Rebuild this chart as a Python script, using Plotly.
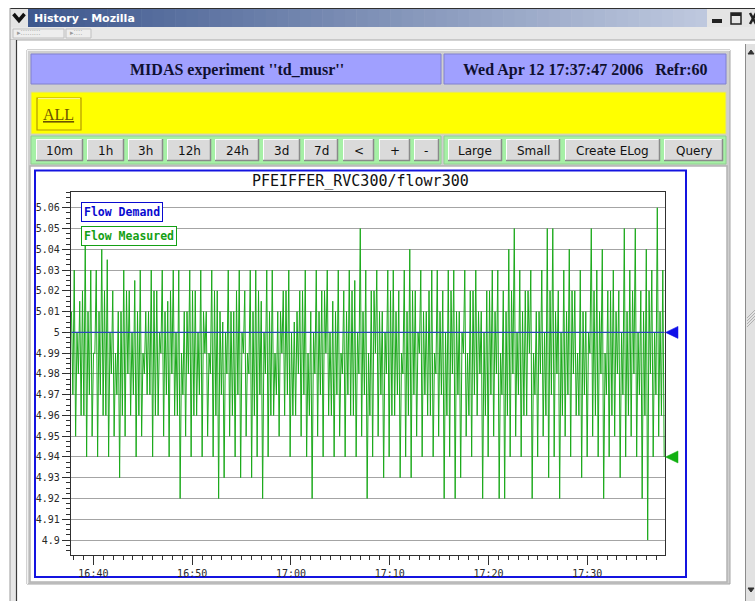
import plotly.graph_objects as go
import pandas as pd

# ------------------------------------------------------------------ data
chart_title = "PFEIFFER_RVC300/flowr300"
series_names = ["Flow Demand", "Flow Measured"]
header_left = 'MIDAS experiment "td_musr"'
header_right = "Wed Apr 12 17:37:47 2006\u00a0\u00a0\u00a0Refr:60"
window_title = "History - Mozilla"
group_buttons = ["ALL"]
time_buttons = ["10m", "1h", "3h", "12h", "24h", "3d", "7d", "<", "+", "-"]
action_buttons = ["Large", "Small", "Create ELog", "Query"]

start_time = "2006-04-12 16:37:47"
end_time = "2006-04-12 17:37:47"
flow_demand = [5.0, 5.0]

# one oscillation cycle = inner high, inner low, peak, trough
measured_inner_highs = [
    5.01, 5.0, 5.02, 5.01, 4.99, 5.01, 5.02, 5.0, 4.99, 5.01,
    5.02, 5.0, 5.01, 4.99, 5.01, 5.02, 5.0, 5.01, 5.02, 5.0,
    4.99, 5.01, 5.02, 5.0, 5.01, 4.99, 5.02, 5.01, 5.0, 5.01,
    5.02, 5.0, 4.99, 5.01, 5.02, 5.0, 5.01, 4.99, 5.01, 5.02,
    5.0, 5.01, 5.02, 4.99, 5.0, 5.01, 5.02, 5.0, 5.01, 4.99,
    5.01, 5.02, 5.0, 5.01, 4.99, 5.02, 5.01, 5.0, 5.02, 5.01,
    4.99, 5.01, 5.02, 5.0, 5.01, 5.02, 4.99, 5.01, 5.0, 5.02,
    5.01, 5.0, 4.99, 5.02, 5.01, 5.0, 5.02, 5.01, 4.99, 5.01,
    5.02, 5.0, 5.01, 5.02, 4.99, 5.01, 5.0, 5.02, 5.01, 5.0,
    5.01, 5.02, 4.99, 5.01, 5.0, 5.02, 5.01, 4.99, 5.02, 5.01,
    5.0, 5.01, 5.02, 5.0, 5.01, 5.02, 5.0, 5.01,
]
measured_inner_lows = [
    4.97, 4.98, 4.96, 4.97, 4.99, 4.97, 4.96, 4.98, 4.97, 4.96,
    4.98, 4.97, 4.96, 4.98, 4.97, 4.96, 4.99, 4.97, 4.98, 4.96,
    4.97, 4.98, 4.96, 4.97, 4.99, 4.98, 4.96, 4.97, 4.98, 4.96,
    4.97, 4.99, 4.98, 4.96, 4.97, 4.98, 4.96, 4.97, 4.99, 4.97,
    4.96, 4.98, 4.97, 4.96, 4.98, 4.97, 4.99, 4.96, 4.97, 4.98,
    4.97, 4.96, 4.98, 4.97, 4.96, 4.99, 4.97, 4.98, 4.96, 4.97,
    4.98, 4.96, 4.97, 4.99, 4.97, 4.96, 4.98, 4.97, 4.96, 4.98,
    4.97, 4.99, 4.96, 4.97, 4.98, 4.96, 4.97, 4.98, 4.97, 4.96,
    4.98, 4.97, 4.96, 4.99, 4.97, 4.98, 4.96, 4.97, 4.98, 4.96,
    4.97, 4.98, 4.96, 4.97, 4.99, 4.96, 4.98, 4.97, 4.96, 4.98,
    4.97, 4.96, 4.98, 4.97, 4.96, 4.98, 4.97, 4.96,
]
measured_peaks = [
    5.03, 5.015, 5.045, 5.03, 5.03, 5.04, 5.035, 5.02, 5.01, 5.03,
    5.02, 5.025, 5.03, 5.01, 5.03, 5.02, 5.03, 5.015, 5.03, 5.03,
    5.01, 5.03, 5.02, 5.03, 5.01, 5.03, 5.02, 5.005, 5.03, 5.01,
    5.03, 5.02, 5.03, 5.03, 5.015, 5.03, 5.03, 5.01, 5.02, 5.03,
    5.005, 5.02, 5.03, 5.01, 5.03, 5.02, 5.03, 5.015, 5.03, 5.02,
    5.03, 5.025, 5.05, 5.03, 5.02, 5.03, 5.01, 5.03, 5.03, 5.02,
    5.03, 5.04, 5.02, 5.03, 5.01, 5.03, 5.03, 5.02, 5.03, 5.03,
    5.01, 5.03, 5.02, 5.03, 5.01, 5.02, 5.03, 5.03, 5.02, 5.04,
    5.05, 5.03, 5.02, 5.03, 5.01, 5.03, 5.05, 5.05, 5.02, 5.03,
    5.04, 5.02, 5.03, 5.01, 5.05, 5.03, 5.04, 5.02, 5.03, 5.02,
    5.05, 5.03, 5.05, 5.02, 5.04, 5.03, 5.06, 5.03,
]
measured_troughs = [
    4.95, 4.96, 4.94, 4.95, 4.94, 4.96, 4.94, 4.95, 4.93, 4.95,
    4.96, 4.94, 4.95, 4.97, 4.94, 4.96, 4.95, 4.94, 4.96, 4.92,
    4.95, 4.94, 4.96, 4.94, 4.95, 4.94, 4.92, 4.93, 4.95, 4.94,
    4.93, 4.95, 4.93, 4.94, 4.92, 4.94, 4.96, 4.95, 4.96, 4.94,
    4.96, 4.95, 4.94, 4.92, 4.95, 4.94, 4.96, 4.94, 4.95, 4.94,
    4.96, 4.94, 4.95, 4.92, 4.94, 4.95, 4.93, 4.94, 4.96, 4.93,
    4.94, 4.93, 4.95, 4.94, 4.96, 4.94, 4.95, 4.92, 4.94, 4.92,
    4.93, 4.95, 4.94, 4.96, 4.92, 4.94, 4.95, 4.92, 4.92, 4.94,
    4.95, 4.94, 4.96, 4.92, 4.94, 4.95, 4.93, 4.94, 4.92, 4.95,
    4.94, 4.96, 4.93, 4.94, 4.95, 4.94, 4.92, 4.94, 4.95, 4.93,
    4.94, 4.95, 4.94, 4.92, 4.90, 4.94, 4.95, 4.94,
]

flow_measured = []
for a, b, hi, lo in zip(measured_inner_highs, measured_inner_lows,
                        measured_peaks, measured_troughs):
    flow_measured += [a, b, hi, lo]
measured_times = pd.date_range(start_time, end_time, periods=len(flow_measured))
demand_times = [start_time, end_time]

# ------------------------------------------------------------------ layout helpers
W, H = 755, 601
Y_RANGE = [4.8928, 5.0676]
PLOT_TOP, PLOT_BOTTOM = 192, 555
shapes, annotations = [], []


def X(p):
    return p / W


def Y(p):
    return 1 - p / H


def rect(x0, y0, x1, y1, fill, line=None, lw=0, layer="below"):
    shapes.append(dict(type="rect", xref="paper", yref="paper",
                       x0=X(x0), x1=X(x1), y0=Y(y1), y1=Y(y0),
                       fillcolor=fill, layer=layer,
                       line=dict(color=line or "rgba(0,0,0,0)", width=lw)))


def seg(x0, y0, x1, y1, color, w=1, layer="below"):
    shapes.append(dict(type="line", xref="paper", yref="paper",
                       x0=X(x0), x1=X(x1), y0=Y(y0), y1=Y(y1), layer=layer,
                       line=dict(color=color, width=w)))


def path(d_pts, color, fill=None, w=1, layer="below"):
    d = "M " + " L ".join(f"{X(a)},{Y(b)}" for a, b in d_pts)
    if fill:
        d += " Z"
    shapes.append(dict(type="path", xref="paper", yref="paper", path=d, layer=layer,
                       fillcolor=fill or "rgba(0,0,0,0)",
                       line=dict(color=color, width=w)))


def value_marker(value, color):
    """left-pointing triangle just right of the plot, at a data value on the y axis"""
    half = 6 * (Y_RANGE[1] - Y_RANGE[0]) / (PLOT_BOTTOM - PLOT_TOP)
    d = (f"M {X(665.5)},{value} L {X(678)},{value + half} "
         f"L {X(678)},{value - half} Z")
    shapes.append(dict(type="path", xref="paper", yref="y", path=d, layer="above",
                       fillcolor=color, line=dict(color=color, width=0.5)))


def text(x, y, s, size, color, family, xanchor="center", yanchor="middle", **kw):
    annotations.append(dict(xref="paper", yref="paper", x=X(x), y=Y(y), text=s,
                            showarrow=False, xanchor=xanchor, yanchor=yanchor,
                            font=dict(size=size, color=color, family=family), **kw))


def button(x0, x1, y0, y1, label):
    rect(x0, y0, x1, y1, "#dadada")
    seg(x0, y0 + 0.5, x1, y0 + 0.5, "#ffffff")
    seg(x0 + 0.5, y0, x0 + 0.5, y1, "#ffffff")
    seg(x0, y1 - 0.5, x1, y1 - 0.5, "#8a8a8a", 1.5)
    seg(x1 - 0.5, y0, x1 - 0.5, y1, "#8a8a8a", 1.5)
    text((x0 + x1) / 2, (y0 + y1) / 2 + 0.5, label, 12, "#111111", "DejaVu Sans")


# ------------------------------------------------------------------ window chrome
n_strips = 60
tb_x0, tb_x1 = 28, 707
c0, c1 = (62, 88, 142), (190, 200, 222)
for i in range(n_strips):
    t = i / (n_strips - 1)
    col = tuple(round(c0[k] + (c1[k] - c0[k]) * t) for k in range(3))
    xa = tb_x0 + (tb_x1 - tb_x0) * i / n_strips
    xb = tb_x0 + (tb_x1 - tb_x0) * (i + 1) / n_strips + 0.6
    rect(xa, 9, xb, 27, f"rgb{col}")
rect(10, 9, 28, 27, "#e4e4e4")
path([(13.5, 14), (19, 20.5), (24.5, 14)], "#111111", w=3.5)
seg(10, 8.5, 755, 8.5, "#303030", 1)
rect(707, 9, 755, 27, "#e4e4e4")
rect(712, 19, 722, 23, "#222222")
rect(731, 13, 741, 24, "rgba(0,0,0,0)", "#222222", 1.5)
rect(731, 13, 741, 16, "#222222")
seg(750, 13, 756, 24, "#222222", 2.5)
seg(750, 24, 756, 13, "#222222", 2.5)
text(32, 18.5, "<b>" + window_title + "</b>", 11, "#ffffff", "DejaVu Sans", xanchor="left")

# toolbar strip
rect(10, 27, 755, 40, "#e8e8e8")
seg(10, 40, 755, 40, "#a8a8a8")
rect(13, 29, 64, 38, "#eeeeee", "#c0c0c0", 1)
rect(66, 29, 91, 38, "#eeeeee", "#c0c0c0", 1)
text(15, 33.5, "\u25b8" + "\u205a" * 9, 7, "#9a9a9a", "DejaVu Sans", xanchor="left")
text(68, 33.5, "\u25b8" + "\u205a" * 4, 7, "#9a9a9a", "DejaVu Sans", xanchor="left")

# window frame + content edge
rect(10, 40, 16, 601, "#e6e6e6")
seg(16.5, 40, 16.5, 601, "#3a3a3a", 1.2)
seg(10, 8, 10, 601, "#9a9a9a", 1)

# scrollbar
rect(745, 44, 755, 601, "#e2e2e2")
seg(745.5, 44, 745.5, 601, "#8c8c8c", 1)
path([(748, 54), (751, 50), (754, 54)], "#333333", fill="#333333")
path([(748, 588), (751, 592), (754, 588)], "#333333", fill="#333333")
for k in range(4):
    seg(747, 318 + 3 * k, 755, 310 + 3 * k, "#b0b0b0", 1)

# ------------------------------------------------------------------ page table
rect(27, 50, 730, 584, "#cfcfcf", "#a6a6a6", 1)
seg(27, 50.5, 730, 50.5, "#f2f2f2", 1)
seg(27.5, 50, 27.5, 584, "#f2f2f2", 1)

# header row
rect(31, 54, 441, 84, "#a0a0ff", "#8080d0", 1)
rect(444, 54, 726, 84, "#a0a0ff", "#8080d0", 1)
text(237, 70, "<b>" + header_left.replace('"', "''") + "</b>", 16, "#101030", "Liberation Serif")
text(585, 70, "<b>" + header_right + "</b>", 16, "#101030", "Liberation Serif")

# group row (yellow)
rect(31, 92, 726, 134, "#ffff00", "#d8d8a0", 1)
rect(37, 98, 81, 130, "#ffff00", "#b49a00", 1.2)
seg(38, 98.6, 80, 98.6, "#fff8a0", 1)
text(59, 114, "<u>" + group_buttons[0] + "</u>", 16, "#6a5400", "Liberation Serif")

# button row (green)
rect(31, 136, 441, 164, "#a6f0a6", "#90d090", 1)
rect(444, 136, 726, 164, "#a6f0a6", "#90d090", 1)
time_button_x = [(36, 83), (87, 124), (128, 163), (167, 211), (215, 259),
                 (263, 300), (304, 338), (343, 374), (379, 410), (414, 439)]
action_button_x = [(448, 502), (506, 560), (565, 660), (664, 723)]
for (a, b), lab in zip(time_button_x, time_buttons):
    button(a, b, 139, 161, lab)
for (a, b), lab in zip(action_button_x, action_buttons):
    button(a, b, 139, 161, lab)

# chart cell
rect(30, 166, 727, 582, "#ffffff", "#b4b4b4", 1.5)
rect(35, 170.5, 686, 577, "rgba(0,0,0,0)", "#1414e0", 2)
text(360, 181, chart_title, 15, "#111111", "DejaVu Sans Mono")

# legend boxes (drawn on top of the traces)
text(81, 202, "<b>" + series_names[0] + "</b>", 11.5, "#0a0ad0", "DejaVu Sans Mono",
     xanchor="left", yanchor="top", bgcolor="#ffffff", bordercolor="#0a0ad0",
     borderwidth=1, borderpad=2)
text(81, 225.5, "<b>" + series_names[1] + "</b>", 11.5, "#14a014", "DejaVu Sans Mono",
     xanchor="left", yanchor="top", bgcolor="#ffffff", bordercolor="#14a014",
     borderwidth=1, borderpad=2)

# current-value markers at the right edge
value_marker(flow_demand[-1], "#1010e8")
value_marker(flow_measured[-1], "#12b012")

# ------------------------------------------------------------------ figure
fig = go.Figure()
fig.add_trace(go.Scatter(x=measured_times, y=flow_measured, mode="lines",
                         name=series_names[1],
                         line=dict(color="#1caa1c", width=1), hoverinfo="skip"))
fig.add_trace(go.Scatter(x=demand_times, y=flow_demand, mode="lines",
                         name=series_names[0],
                         line=dict(color="#2a46b8", width=1.3), hoverinfo="skip"))

axis_color = "#303030"
tick_font = dict(family="DejaVu Sans Mono", size=10, color="#282828")
fig.update_layout(
    width=W, height=H, autosize=False,
    margin=dict(l=0, r=0, t=0, b=0, pad=0),
    paper_bgcolor="#ffffff", plot_bgcolor="#ffffff",
    showlegend=False, hovermode=False,
    shapes=shapes, annotations=annotations,
    xaxis=dict(
        type="date", domain=[X(71), X(665)],
        range=["2006-04-12 16:37:44", "2006-04-12 17:37:52"],
        tick0="2006-04-12 16:40:00", dtick=600000, tickformat="%H:%M",
        ticks="outside", ticklen=9, tickwidth=1, tickcolor=axis_color,
        showline=True, linecolor=axis_color, linewidth=1.2, mirror=True,
        showgrid=False, zeroline=False, tickfont=tick_font,
        minor=dict(dtick=60000, tick0="2006-04-12 16:40:00", ticks="outside",
                   ticklen=4, tickcolor=axis_color, showgrid=False),
        fixedrange=True,
    ),
    yaxis=dict(
        domain=[Y(PLOT_BOTTOM), Y(PLOT_TOP)], range=Y_RANGE,
        tick0=5, dtick=0.01,
        ticks="outside", ticklen=8, tickwidth=1, tickcolor=axis_color,
        showline=True, linecolor=axis_color, linewidth=1.2, mirror=True,
        showgrid=True, gridcolor="#a4a4a4", gridwidth=1, zeroline=False,
        tickfont=tick_font,
        minor=dict(dtick=0.0025, tick0=5, ticks="outside", ticklen=4,
                   tickcolor=axis_color, showgrid=False),
        fixedrange=True,
    ),
)

fig.write_html("out.html", config={"displayModeBar": False, "staticPlot": True},
               post_script="document.body.style.margin='0px';")
